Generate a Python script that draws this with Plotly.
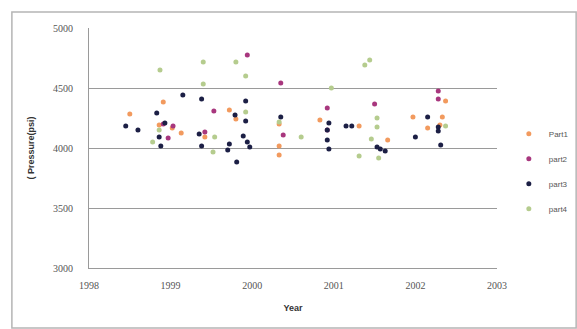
import plotly.graph_objects as go

# Pressure readings (psi) by survey date, one list pair per part
part1_year = [1998.50, 1998.91, 1998.86, 1999.02, 1999.13, 1999.42, 1999.72, 1999.80,
              2000.33, 2000.33, 2000.33, 2000.83, 2001.31, 2001.66, 2001.97, 2002.15,
              2002.33, 2002.37, 2002.30]
part1_psi = [4283, 4383, 4192, 4167, 4125, 4092, 4317, 4242,
             4017, 3942, 4200, 4233, 4183, 4067, 4258, 4167,
             4258, 4392, 4192]

part2_year = [1999.94, 2000.35, 1999.53, 2000.38, 1998.97, 1999.03, 1998.91, 2000.92,
              2001.50, 2002.28, 2002.28, 2000.92, 1999.42]
part2_psi = [4775, 4542, 4308, 4108, 4083, 4183, 4200, 4333,
             4367, 4475, 4408, 4150, 4133]

part3_year = [1998.45, 1998.60, 1998.83, 1998.93, 1998.86, 1998.88, 1999.15, 1999.38,
              1999.35, 1999.38, 1999.72, 1999.70, 1999.81, 1999.79, 1999.92, 1999.92,
              1999.89, 1999.94, 1999.97, 2000.35, 2000.94, 2000.92, 2000.92, 2000.94,
              2001.15, 2001.22, 2001.53, 2001.57, 2001.63, 2002.00, 2002.15, 2002.28,
              2002.28, 2002.31]
part3_psi = [4183, 4150, 4292, 4208, 4092, 4017, 4442, 4408,
             4117, 4017, 4033, 3983, 3883, 4275, 4392, 4225,
             4100, 4050, 4008, 4258, 4208, 4150, 4067, 3992,
             4183, 4183, 4008, 3992, 3975, 4092, 4258, 4175,
             4142, 4025]

part4_year = [1998.87, 1999.40, 1999.40, 1999.80, 1999.92, 2000.97, 2001.38, 2001.44,
              2000.60, 2001.31, 2001.55, 2001.46, 2001.53, 2001.53, 1999.52, 1999.54,
              1998.86, 1998.78, 1999.92, 2000.33, 2002.37]
part4_psi = [4650, 4717, 4533, 4717, 4600, 4500, 4692, 4733,
             4092, 3933, 3917, 4075, 4175, 4250, 3967, 4092,
             4150, 4050, 4300, 4217, 4183]

series_names = ["Part1", "part2", "part3", "part4"]
series_colors = ["#F29A5E", "#A8377E", "#1C1F45", "#B5CC8E"]
series_data = [(part1_year, part1_psi), (part2_year, part2_psi),
               (part3_year, part3_psi), (part4_year, part4_psi)]

x_ticks = [1998, 1999, 2000, 2001, 2002, 2003]
y_ticks = [3000, 3500, 4000, 4500, 5000]

fig = go.Figure()
for name, color, (xs, ys) in zip(series_names, series_colors, series_data):
    fig.add_trace(go.Scatter(
        x=xs, y=ys, mode="markers", name=name, legendgroup=name,
        marker=dict(size=5, color=color, line=dict(width=0)),
    ))

fig.update_layout(
    template="none",
    width=577, height=329,
    margin=dict(l=89, r=80, t=28, b=61, autoexpand=False),
    paper_bgcolor="white", plot_bgcolor="white",
    showlegend=True,
    legend=dict(
        x=1.029, y=0.62, xanchor="left", yanchor="top",
        font=dict(family="Liberation Sans", size=8, color="#555555"),
        tracegroupgap=6, itemwidth=30, bgcolor="rgba(0,0,0,0)",
    ),
    xaxis=dict(
        range=[1998, 2003], tickmode="array", tickvals=x_ticks,
        ticktext=[str(v) for v in x_ticks],
        tickfont=dict(family="Liberation Serif", size=10, color="#555555"),
        ticklabelstandoff=8, automargin=False,
        showgrid=False, zeroline=False, showline=True, linecolor="#9a9a9a",
        linewidth=1, ticks="", mirror=False,
        title=dict(text="<b>Year</b>", font=dict(family="Liberation Sans", size=9, color="#333333"),
                   standoff=14),
    ),
    yaxis=dict(
        range=[3000, 5000], tickmode="array", tickvals=y_ticks,
        ticktext=[str(v) for v in y_ticks],
        tickfont=dict(family="Liberation Serif", size=10, color="#555555"),
        ticklabelstandoff=13, automargin=False,
        showgrid=True, gridcolor="#9a9a9a", gridwidth=1,
        zeroline=False, showline=True, linecolor="#9a9a9a", ticks="",
        title=dict(text="<b>( Pressure(psi)</b>", font=dict(family="Liberation Sans", size=9, color="#333333"),
                   standoff=16),
    ),
    shapes=[dict(
        type="rect", xref="paper", yref="paper",
        x0=-0.189, x1=1.194, y0=-0.25, y1=1.067,
        line=dict(color="#b5b5b5", width=1.5), fillcolor="rgba(0,0,0,0)", layer="below",
    )],
)

fig.write_html("out.html")
